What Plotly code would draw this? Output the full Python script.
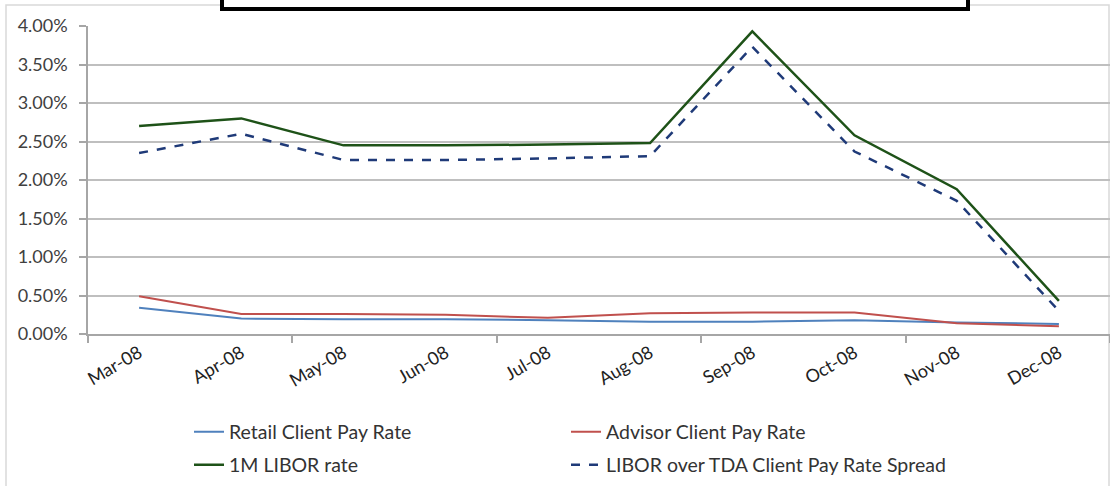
import plotly.graph_objects as go

months = ["Mar-08", "Apr-08", "May-08", "Jun-08", "Jul-08", "Aug-08", "Sep-08", "Oct-08", "Nov-08", "Dec-08"]
retail = [0.0034, 0.0020, 0.0019, 0.0019, 0.0018, 0.0016, 0.0016, 0.0018, 0.0015, 0.0013]
advisor = [0.0049, 0.0026, 0.0026, 0.0025, 0.0021, 0.0027, 0.0028, 0.0028, 0.0014, 0.0010]
libor = [0.0270, 0.0280, 0.0245, 0.0245, 0.0246, 0.0248, 0.0393, 0.0258, 0.0188, 0.0043]
spread = [0.0235, 0.0260, 0.0226, 0.0226, 0.0228, 0.0231, 0.0373, 0.0237, 0.0173, 0.0030]

x = list(range(len(months)))
FONT = "Lato"
TXT = "#404040"

fig = go.Figure()
fig.add_trace(go.Scatter(x=x, y=retail, mode="lines", name="Retail Client Pay Rate",
                         line=dict(color="#4F81BD", width=2), legend="legend", showlegend=True))
fig.add_trace(go.Scatter(x=x, y=advisor, mode="lines", name="Advisor Client Pay Rate",
                         line=dict(color="#C0504D", width=2), legend="legend2", showlegend=True))
fig.add_trace(go.Scatter(x=x, y=libor, mode="lines", name="1M LIBOR rate",
                         line=dict(color="#1E5218", width=2.5), legend="legend3", showlegend=True))
fig.add_trace(go.Scatter(x=x, y=spread, mode="lines", name="LIBOR over TDA Client Pay Rate Spread",
                         line=dict(color="#1F3A78", width=2.5, dash="dash"), legend="legend4", showlegend=True))

L, R, T, B = 88, 1110, 26, 334
W, H = R - L, B - T

def px(v):
    return (v - L) / W

def py(v):
    return (B - v) / H

def leg(xp, yp):
    return dict(orientation="h", x=px(xp), y=py(yp), xanchor="left", yanchor="middle",
                font=dict(size=19.5, color="#333333"), bgcolor="rgba(0,0,0,0)", visible=True)

fig.update_layout(
    width=1110, height=486,
    showlegend=True,
    margin=dict(l=L, r=1110 - R, t=T, b=486 - B),
    paper_bgcolor="white", plot_bgcolor="white",
    font=dict(family=FONT, size=18, color=TXT),
    xaxis=dict(range=[-0.5, len(months) - 0.5], tickvals=x, ticktext=months,
               tickangle=-30, ticks="", showgrid=False, zeroline=False,
               showline=True, linecolor="#A6A6A6", linewidth=1.5,
               tickfont=dict(size=18, color="#222222"),
               minor=dict(tickvals=[-0.5, 1.5, 3.5, 5.5, 7.5, 9.5], ticks="outside",
                          ticklen=7, tickcolor="#A6A6A6", tickwidth=1.5, showgrid=False)),
    yaxis=dict(range=[0, 0.04], dtick=0.005, tickformat=".2%",
               showgrid=True, gridcolor="#BFBFBF", gridwidth=1.5, zeroline=False,
               showline=True, linecolor="#A6A6A6", linewidth=1.5,
               ticks="outside", ticklen=7, tickcolor="#A6A6A6", tickwidth=1.5,
               ticklabelstandoff=8,
               tickfont=dict(size=18, color="#404040")),
    legend=leg(189, 432),
    legend2=leg(566, 432),
    legend3=leg(189, 465),
    legend4=leg(566, 465),
    shapes=[
        dict(type="rect", xref="paper", yref="paper", x0=px(6), x1=px(1109), y0=py(495), y1=py(5),
             line=dict(color="#D9D9D9", width=1.5), fillcolor="rgba(0,0,0,0)", layer="below"),
        dict(type="rect", xref="paper", yref="paper", x0=px(222), x1=px(968), y0=py(9), y1=py(-20),
             line=dict(color="black", width=4), fillcolor="white"),
    ],
)

fig.write_html("out.html", config={"displayModeBar": False},
               post_script="document.body.style.margin='0';document.body.style.overflow='hidden';")
